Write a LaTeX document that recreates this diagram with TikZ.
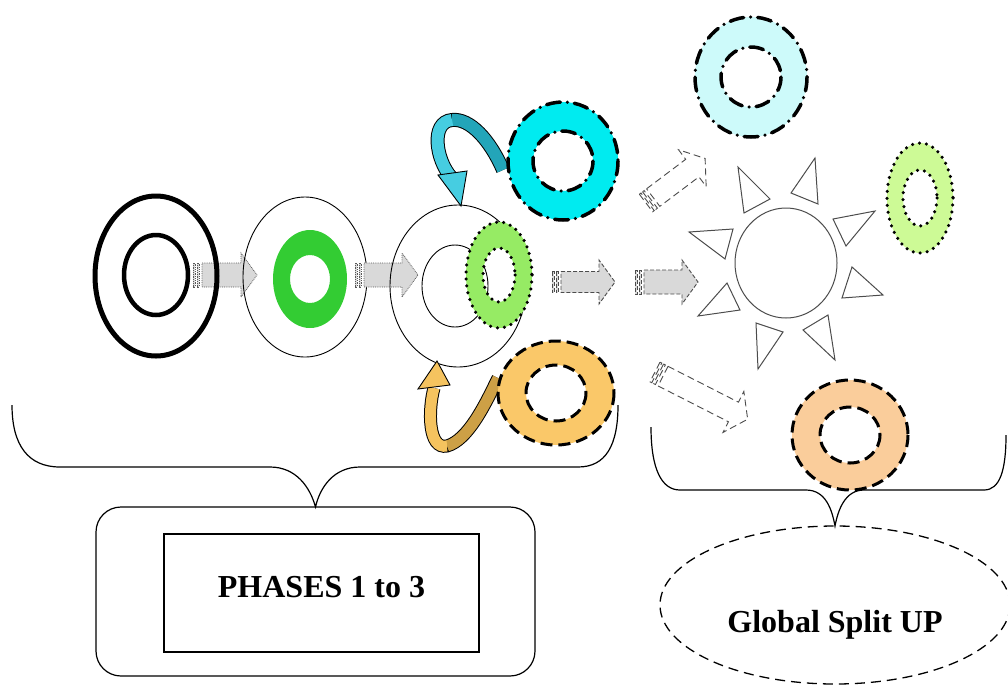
\documentclass[tikz,border=0pt]{standalone}
\usepackage{fontspec}
\setmainfont{Liberation Serif}
\usetikzlibrary{shapes.geometric}

\definecolor{ringgreen}{RGB}{51,204,51}
\definecolor{limegreen}{RGB}{150,235,100}
\definecolor{palegreen}{RGB}{205,250,150}
\definecolor{ringcyan}{RGB}{0,235,240}
\definecolor{palecyan}{RGB}{205,250,250}
\definecolor{ringorange}{RGB}{250,200,105}
\definecolor{ringpeach}{RGB}{250,205,155}
\definecolor{ribboncyan}{RGB}{70,205,225}
\definecolor{ribboncyandark}{RGB}{35,165,185}
\definecolor{ribbonorange}{RGB}{245,195,95}
\definecolor{ribbonorangedark}{RGB}{205,160,70}

% Ring: fill, border, centre, outer radii, inner radii
\newcommand{\ringshape}[7]{%
	\fill [#1, even odd rule] #3 ellipse [x radius = #4, y radius = #5] #3 ellipse [x radius = #6, y radius = #7];
	\draw [#2] #3 ellipse [x radius = #4, y radius = #5];
	\draw [#2] #3 ellipse [x radius = #6, y radius = #7];
}

% Striped block arrow: style, tail, angle, length, body half width, head half width
\newcommand{\stripearrow}[6]{%
	\begin{scope}[shift = {#2}, rotate = #3]
		\draw [#1] (0, -#5) rectangle (2, #5);
		\draw [#1] (4, -#5) rectangle (6, #5);
		\draw [#1] (9, -#5) -- ({#4 - 16}, -#5) -- ({#4 - 16}, -#6) -- (#4, 0) -- ({#4 - 16}, #6) -- ({#4 - 16}, #5) -- (9, #5) -- cycle;
	\end{scope}
}

\begin{document}
\begin{tikzpicture}[x = 1pt, y = -1pt,
	thinline/.style = {draw = black, line width = 0.9pt},
	brace/.style = {draw = black, line width = 1.2pt},
	sunline/.style = {draw = gray!60!black, line width = 1pt},
	dotarrow/.style = {fill = gray!30, draw = gray!70!black, line width = 0.8pt, densely dotted},
	dasharrow/.style = {fill = gray!30, draw = gray!60!black, line width = 0.9pt, dash pattern = on 4pt off 2pt},
	openarrow/.style = {fill = white, draw = gray!60!black, line width = 0.9pt, dash pattern = on 7pt off 4pt},
	dotborder/.style = {line width = 3.5pt, line cap = round, dash pattern = on 0pt off 7pt},
	dashborder/.style = {line width = 3pt, dash pattern = on 12pt off 6pt},
	dashdotborder/.style = {line width = 3.5pt, line cap = round, dash pattern = on 14pt off 7pt on 0pt off 7pt},
	noborder/.style = {draw = none},
	labeltext/.style = {font = \fontsize{32}{38}\selectfont\bfseries},
	roundbox/.style = {draw, rounded corners = 25pt, line width = 1.2pt, minimum width = 439pt, minimum height = 169pt, inner sep = 0pt, outer sep = 0pt},
	labelbox/.style = {draw, labeltext, line width = 1.2pt, minimum width = 315pt, minimum height = 118pt, inner sep = 0pt, outer sep = 0pt, text depth = 12pt},
	splitoval/.style = {ellipse, draw, labeltext, line width = 1.3pt, dash pattern = on 10pt off 6pt, minimum width = 350pt, minimum height = 158pt, inner sep = 0pt, outer sep = 0pt, text height = 55pt, text depth = 0pt}]

	\useasboundingbox (0, 0) rectangle (1008, 686);

	% Labels
	
	\node [roundbox] (phasesbox) at (315.5, 591.5) {};
	\node [labelbox] (phases) at (321.5, 593) {PHASES 1 to 3};
	\node [splitoval] (split) at (835, 605) {Global Split UP};

	% Braces
	
	\draw [brace] (12, 405) .. controls (12, 445) and (28, 467) .. (60, 467) -- (270, 467) .. controls (296, 467) and (310, 487) .. (phasesbox.north) .. controls (320, 487) and (334, 467) .. (360, 467) -- (578, 467) .. controls (606, 467) and (618, 445) .. (618, 405);
	\draw [brace] (651, 427) .. controls (651, 470) and (662, 490) .. (680, 490) -- (806, 490) .. controls (826, 490) and (832, 510) .. (split.north) .. controls (838, 510) and (845, 490) .. (864, 490) -- (984, 490) .. controls (1000, 490) and (1006, 470) .. (1006, 435);

	% Phase 1
	
	\stripearrow{dotarrow}{(193, 275)}{0}{64}{12}{22}
	\draw [line width = 5pt] (156, 276) ellipse [x radius = 61, y radius = 80];
	\draw [line width = 4.5pt] (156, 275) ellipse [x radius = 32, y radius = 40];

	% Phase 2
	
	\draw [thinline] (305, 277) ellipse [x radius = 62, y radius = 80];
	\ringshape{ringgreen}{noborder}{(310, 279)}{37}{49}{20}{24}
	\stripearrow{dotarrow}{(355, 275)}{0}{63}{12}{22}

	% Phase 3
	
	\draw [thinline] (458, 286) ellipse [x radius = 68, y radius = 81];
	\draw [thinline] (455, 286) ellipse [x radius = 33, y radius = 41];
	\ringshape{limegreen}{dotborder}{(499, 275)}{33}{53}{16}{27}

	% Ribbon arrows
	
	\draw [line width = 14pt, black] (503, 170) .. controls (490, 140) and (470, 118) .. (452, 120) .. controls (430, 122) and (436, 160) .. (451, 177);
	\draw [line width = 12pt, ribboncyandark] (503, 170) .. controls (490, 140) and (470, 118) .. (452, 120);
	\draw [line width = 12pt, ribboncyan] (452, 120) .. controls (430, 122) and (436, 160) .. (451, 177);
	\filldraw [fill = ribboncyan, thinline] (438, 175) -- (467, 171) -- (461, 206) -- cycle;
	\ringshape{ringcyan}{dashdotborder}{(563, 161)}{55}{59}{30}{30}

	\draw [line width = 13pt, black] (498, 378) .. controls (485, 405) and (468, 440) .. (447, 446) .. controls (428, 450) and (428, 410) .. (434, 388);
	\draw [line width = 11pt, ribbonorangedark] (498, 378) .. controls (485, 405) and (468, 440) .. (447, 446);
	\draw [line width = 11pt, ribbonorange] (447, 446) .. controls (428, 450) and (428, 410) .. (434, 388);
	\filldraw [fill = ribbonorange, thinline] (418, 389) -- (450, 385) -- (437, 361) -- cycle;
	\ringshape{ringorange}{dashborder}{(556, 393)}{58}{52}{30}{28}

	% Split arrows
	
	\stripearrow{dasharrow}{(552, 282)}{0}{63}{10.5}{22}
	\stripearrow{dasharrow}{(635, 282)}{0}{63}{12}{22}
	\stripearrow{openarrow}{(646, 203)}{37}{74}{11}{23}
	\stripearrow{openarrow}{(655, 372)}{-27}{104}{11}{23}

	% Sun
	
	\draw [sunline] (786, 263) ellipse [x radius = 51, y radius = 55];
	\foreach \ax/\ay/\bx/\by/\cx/\cy in {738/167/770/199/744/213, 815/158/818/204/791/193, 875/211/833/219/846/246, 883/295/852/267/842/298, 689/232/733/229/725/259, 727/283/740/310/698/316, 756/323/783/332/758/369, 803/330/828/315/835/360}
		\draw [sunline] (\ax, \ay) -- (\bx, \by) -- (\cx, \cy) -- cycle;

	% Split parts
	
	\ringshape{palecyan}{dashdotborder}{(751, 77)}{56}{60}{30}{30}
	\ringshape{palegreen}{dotborder}{(920, 198)}{33}{55}{17}{28}
	\ringshape{ringpeach}{dashborder}{(850, 435)}{58}{55}{30}{28}

\end{tikzpicture}
\end{document}
